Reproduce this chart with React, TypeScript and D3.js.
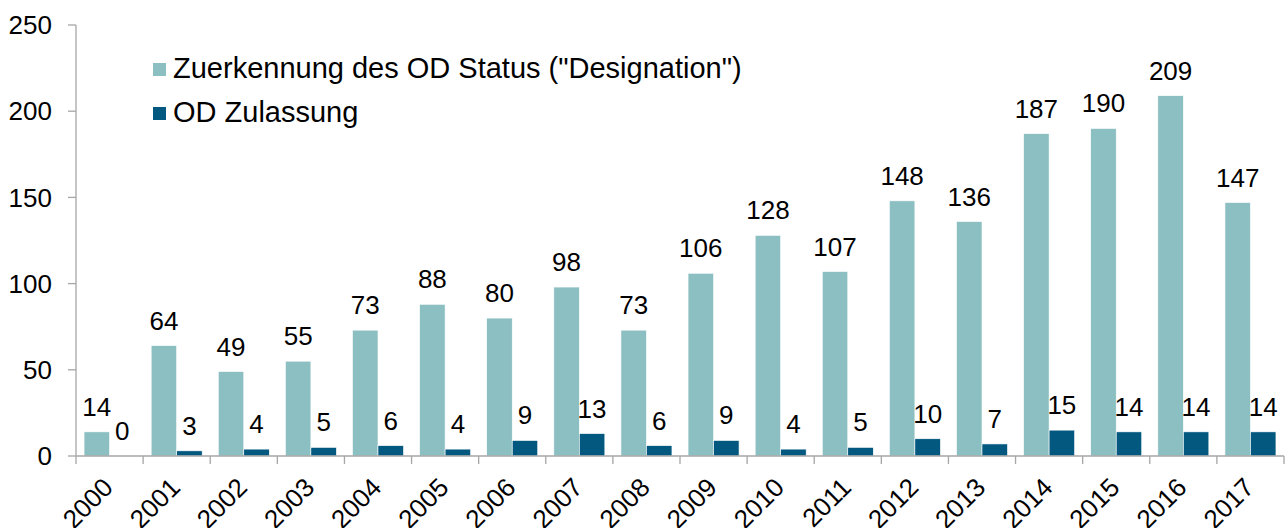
import React from "react";
import * as d3 from "d3";

const years = ["2000","2001","2002","2003","2004","2005","2006","2007","2008","2009","2010","2011","2012","2013","2014","2015","2016","2017"];
const designation = [14,64,49,55,73,88,80,98,73,106,128,107,148,136,187,190,209,147];
const zulassung = [0,3,4,5,6,4,9,13,6,9,4,5,10,7,15,14,14,14];
const yTicks = [0,50,100,150,200,250];
const seriesNames = ["Zuerkennung des OD Status (\"Designation\")", "OD Zulassung"];
const colors = ["#8cbfc2", "#02587f"];

const W = 1285, H = 528;
const x0 = 76, x1 = 1284, yTop = 25, yBase = 456;

export default function App() {
  const x = d3.scaleBand<string>().domain(years).range([x0, x1]).paddingInner(0).paddingOuter(0);
  const y = d3.scaleLinear().domain([0, 250]).range([yBase, yTop]);
  const bw = x.bandwidth();
  const pad = bw * 0.12;
  const barW = (bw - 2 * pad) / 2;
  const font = "'Liberation Sans', Arial, sans-serif";
  const axisColor = "#a6a6a6";
  const series = [designation, zulassung];

  return (
    <svg width={W} height={H} style={{ position: "absolute", left: 0, top: 0 }} fontFamily={font}>
      <rect width={W} height={H} fill="#fff" />
      {/* y axis */}
      <line x1={x0} x2={x0} y1={y(250)} y2={yBase} stroke={axisColor} strokeWidth={1.3} />
      {yTicks.map((t) => (
        <g key={t}>
          <line x1={x0 - 8} x2={x0} y1={y(t)} y2={y(t)} stroke={axisColor} strokeWidth={1.3} />
          <text x={52} y={y(t)} dy="0.35em" textAnchor="end" fontSize={26} fill="#000">{t}</text>
        </g>
      ))}
      {/* bars */}
      {years.map((yr, i) => (
        <g key={yr}>
          {series.map((s, k) => {
            const bx = (x(yr) as number) + pad + k * barW;
            return (
              <g key={k}>
                <rect x={bx} y={y(s[i])} width={barW} height={yBase - y(s[i])} fill={colors[k]} stroke="#fff" strokeWidth={0.6} />
                <text x={bx + barW / 2} y={y(s[i]) - 16} textAnchor="middle" fontSize={26} fill="#000">{s[i]}</text>
              </g>
            );
          })}
        </g>
      ))}
      {/* x axis */}
      <line x1={x0} x2={x1} y1={yBase} y2={yBase} stroke={axisColor} strokeWidth={1.3} />
      {years.map((yr) => (
        <line key={"t" + yr} x1={(x(yr) as number)} x2={(x(yr) as number)} y1={yBase} y2={yBase + 8} stroke={axisColor} strokeWidth={1.3} />
      ))}
      <line x1={x1} x2={x1} y1={yBase} y2={yBase + 8} stroke={axisColor} strokeWidth={1.3} />
      {years.map((yr) => {
        const cx = (x(yr) as number) + bw / 2 + 5;
        const cy = yBase + 33;
        return (
          <text key={"l" + yr} x={cx} y={cy} textAnchor="end" fontSize={26} fill="#000" transform={`rotate(-45 ${cx} ${cy})`}>{yr}</text>
        );
      })}
      {/* legend */}
      {seriesNames.map((n, k) => (
        <g key={n}>
          <rect x={153} y={63 + k * 44} width={13} height={13} fill={colors[k]} />
          <text x={173} y={78 + k * 44} fontSize={29} fill="#000">{n}</text>
        </g>
      ))}
    </svg>
  );
}
